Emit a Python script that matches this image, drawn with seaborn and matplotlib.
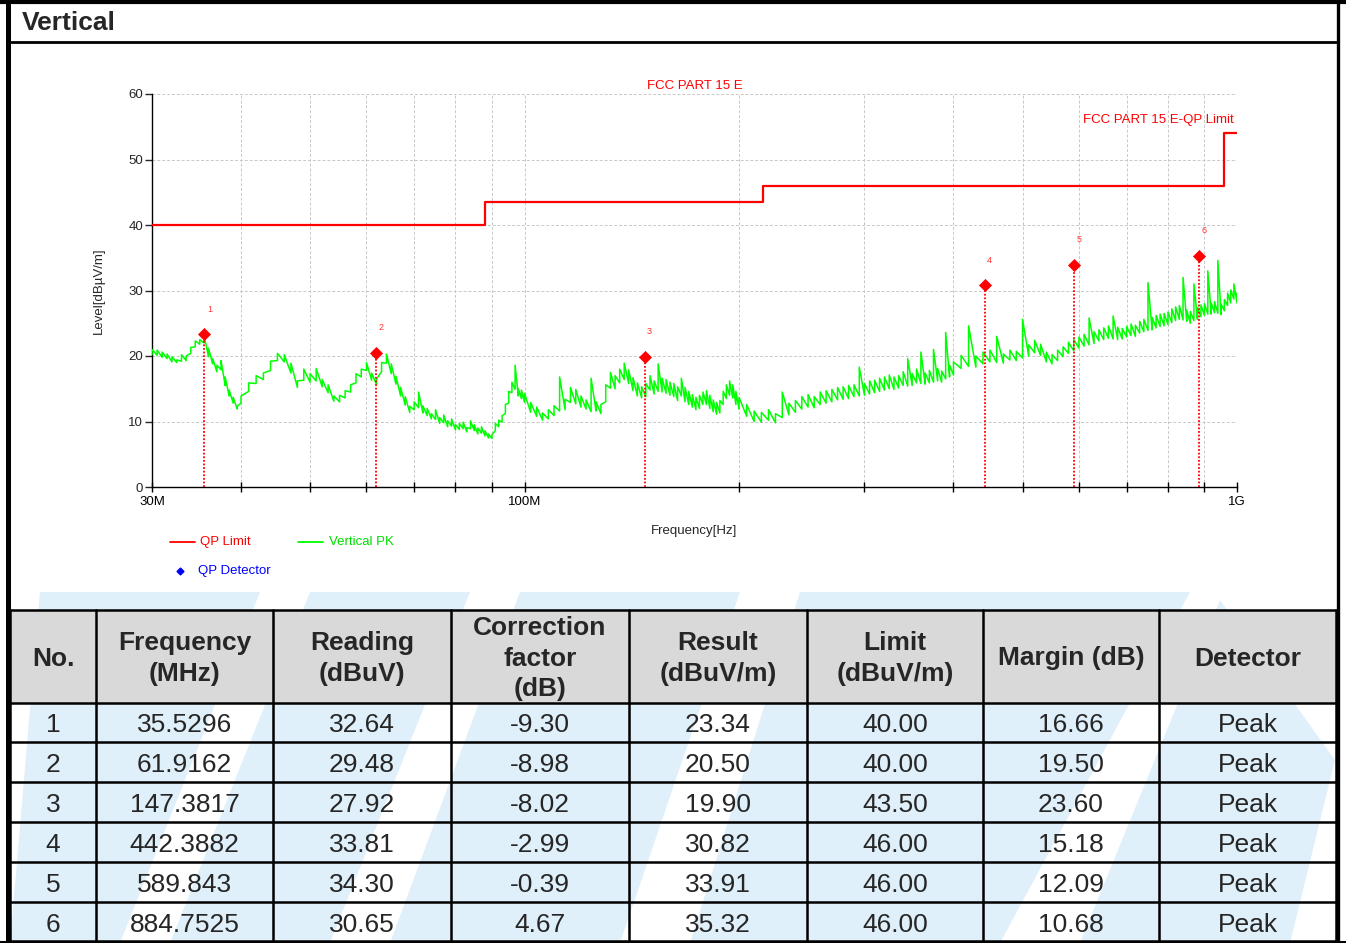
import matplotlib
matplotlib.use('Agg')
import matplotlib.pyplot as plt
from matplotlib.patches import Polygon, Rectangle
from matplotlib.lines import Line2D
from matplotlib.ticker import NullFormatter
import pandas as pd
import seaborn as sns

sns.set_style('white')
plt.rcParams['font.family'] = ['Liberation Sans', 'DejaVu Sans']

# FCC Part 15 QP limit (steps)
limit_freq = [30, 88, 216, 960, 1000]
limit_level = [40, 43.5, 46, 54, 54]

# vertical peak sweep (MHz, dBuV/m): top and bottom of the noise band
pk_freq = [30, 30.5, 31, 31.5, 32, 32.5, 33, 33.5, 34, 34.5, 35, 35.5, 36, 36.5, 37, 37.5, 38, 38.5, 39, 39.5, 40,
           41, 42, 43, 44, 45, 46, 47, 48, 49, 50, 51, 52, 53, 54, 55, 56, 57, 58, 59, 60,
           61, 62, 63, 64, 65, 66, 67, 68, 69, 70, 71, 72, 73, 74, 75, 76, 77, 78, 79, 80,
           81, 82, 83, 84, 85, 86, 87, 88, 89, 90, 91, 92, 93, 94, 95, 96, 97, 98, 99, 100,
           102, 104, 106, 108, 110, 112, 114, 116, 118, 120, 122, 124, 126, 128, 130, 132, 134, 136, 138, 140,
           142, 144, 146, 148, 150, 152, 154, 156, 158, 160, 162, 164, 166, 168, 170, 172, 174, 176, 178, 180,
           182, 184, 186, 188, 190, 192, 194, 196, 198, 200,
           205, 210, 215, 220, 225, 230, 235, 240, 245, 250, 255, 260, 265, 270, 275, 280, 285, 290, 295, 300,
           305, 310, 315, 320, 325, 330, 335, 340, 345, 350, 355, 360, 365, 370, 375, 380, 385, 390, 395, 400,
           410, 420, 430, 440, 450, 460, 470, 480, 490, 500, 510, 520, 530, 540, 550, 560, 570, 580, 590, 600,
           610, 620, 630, 640, 650, 660, 670, 680, 690, 700, 710, 720, 730, 740, 750, 760, 770, 780, 790, 800,
           810, 820, 830, 840, 850, 860, 870, 880, 890, 900, 910, 920, 930, 940, 950, 960, 970, 980, 990, 1000]
pk_high = [21.0, 20.9, 20.6, 20.3, 19.9, 19.4, 20.2, 20.0, 21.3, 22.3, 22.5, 23.2, 21.2, 19.6, 18.6, 19.3, 16.8, 14.8, 13.7, 12.3, 13.9,
           15.9, 17.0, 17.4, 19.2, 20.4, 20.2, 18.9, 16.2, 18.0, 17.3, 18.1, 16.4, 15.6, 13.9, 14.0, 14.7, 15.6, 17.3, 18.0, 19.0,
           17.4, 16.5, 19.0, 20.3, 18.8, 16.9, 15.2, 13.8, 12.3, 13.0, 14.5, 12.4, 12.0, 11.2, 11.8, 10.6, 11.0, 10.1, 10.4, 9.5,
           9.7, 9.9, 9.1, 10.1, 9.5, 9.0, 9.2, 8.6, 8.1, 8.0, 9.7, 10.2, 10.9, 12.6, 14.6, 16.0, 18.6, 15.0, 14.8, 14.3,
           12.9, 12.2, 11.3, 11.8, 12.4, 16.8, 13.4, 15.2, 14.9, 13.9, 13.3, 16.6, 13.0, 12.6, 15.6, 17.5, 17.0, 18.0, 18.9, 17.9,
           16.7, 15.9, 15.3, 15.8, 17.0, 16.2, 18.8, 16.6, 16.4, 16.0, 15.8, 15.3, 16.6, 15.2, 14.6, 14.1, 13.7, 14.0, 14.5, 14.7,
           14.0, 13.3, 12.9, 13.2, 14.6, 15.6, 16.2, 15.6, 14.6, 13.7,
           12.6, 11.6, 11.4, 11.8, 11.2, 14.5, 12.8, 13.2, 13.8, 14.1, 13.8, 14.5, 14.7, 14.9, 15.2, 15.3, 15.5, 15.6, 18.3, 15.8,
           16.2, 16.3, 16.6, 16.8, 17.1, 16.8, 17.0, 17.6, 19.6, 17.3, 18.0, 20.6, 17.4, 17.8, 21.0, 18.1, 17.7, 23.6, 18.6, 19.1,
           20.1, 24.6, 20.0, 20.6, 20.9, 23.0, 20.3, 20.9, 20.7, 25.6, 21.7, 22.4, 21.8, 20.6, 20.2, 20.9, 21.4, 22.1, 22.5, 22.9,
           23.3, 25.8, 23.7, 24.0, 24.3, 24.6, 26.1, 24.4, 24.2, 24.5, 24.9, 24.7, 25.3, 25.6, 31.2, 25.9, 26.2, 26.4, 26.5, 26.7,
           27.2, 27.5, 27.7, 32.0, 27.0, 26.8, 31.0, 27.4, 27.8, 28.0, 33.0, 28.1, 28.3, 34.6, 27.9, 28.6, 29.6, 30.1, 31.0, 29.6]
pk_low = [20.2, 20.1, 19.8, 19.6, 19.1, 19.0, 19.2, 19.3, 20.4, 21.4, 21.8, 22.0, 19.9, 18.8, 17.6, 17.9, 15.5, 13.9, 12.8, 11.9, 12.8,
          14.6, 15.8, 16.4, 17.8, 19.3, 19.1, 17.4, 15.2, 16.3, 16.0, 16.2, 15.3, 14.4, 13.1, 13.0, 13.6, 14.5, 15.9, 16.8, 17.8,
          16.3, 15.6, 17.6, 18.9, 17.3, 15.7, 13.9, 12.5, 11.4, 11.8, 12.1, 11.3, 10.9, 10.4, 10.3, 9.7, 9.8, 9.2, 9.3, 8.7,
          8.8, 8.9, 8.4, 8.9, 8.6, 8.1, 8.2, 7.8, 7.5, 7.4, 8.6, 9.2, 9.9, 11.2, 12.8, 14.4, 14.9, 13.9, 13.5, 12.9,
          11.4, 10.8, 10.2, 10.4, 10.9, 11.6, 11.8, 12.9, 12.7, 12.2, 11.9, 11.5, 11.6, 11.2, 13.0, 15.1, 15.0, 15.9, 16.4, 15.8,
          14.7, 13.9, 13.6, 13.8, 14.8, 14.2, 14.6, 14.5, 14.3, 14.0, 13.8, 13.2, 13.9, 13.0, 12.6, 12.2, 11.8, 12.0, 12.6, 12.6,
          12.0, 11.5, 11.1, 11.3, 12.6, 13.5, 14.0, 13.6, 12.6, 11.9,
          10.8, 10.0, 9.9, 10.2, 9.8, 10.6, 11.0, 11.4, 11.9, 12.2, 12.1, 12.6, 12.8, 13.0, 13.3, 13.4, 13.5, 13.8, 13.9, 14.0,
          14.2, 14.4, 14.6, 14.8, 15.0, 14.9, 15.1, 15.5, 15.4, 15.5, 15.9, 15.8, 15.7, 15.9, 16.0, 16.2, 16.0, 16.5, 16.8, 17.1,
          18.1, 18.4, 18.3, 18.8, 19.1, 19.0, 18.9, 19.4, 19.3, 19.7, 20.0, 20.5, 20.1, 19.1, 18.8, 19.3, 19.9, 20.4, 20.8, 21.2,
          21.5, 21.7, 21.9, 22.3, 22.5, 22.7, 22.6, 22.5, 22.6, 22.9, 23.1, 23.0, 23.5, 23.7, 23.9, 24.0, 24.3, 24.5, 24.6, 24.8,
          25.1, 25.4, 25.6, 25.5, 25.3, 25.0, 25.4, 25.6, 26.0, 26.2, 26.4, 26.4, 26.6, 26.5, 26.3, 26.9, 27.7, 28.1, 28.7, 28.1]

# measured points / table
marker_no = [1, 2, 3, 4, 5, 6]
freq_mhz = [35.5296, 61.9162, 147.3817, 442.3882, 589.843, 884.7525]
reading = [32.64, 29.48, 27.92, 33.81, 34.30, 30.65]
correction = [-9.30, -8.98, -8.02, -2.99, -0.39, 4.67]
result = [23.34, 20.50, 19.90, 30.82, 33.91, 35.32]
limit = [40.00, 40.00, 43.50, 46.00, 46.00, 46.00]
margin = [16.66, 19.50, 23.60, 15.18, 12.09, 10.68]
detector = ['Peak'] * 6

headers = ['No.', 'Frequency\n(MHz)', 'Reading\n(dBuV)', 'Correction\nfactor\n(dB)',
           'Result\n(dBuV/m)', 'Limit\n(dBuV/m)', 'Margin (dB)', 'Detector']

# the analyser draws min/max per column: low -> high at each frequency
sweep = pd.DataFrame({
    'freq': [f for f in pk_freq for _ in range(2)],
    'level': [v for lo, hi in zip(pk_low, pk_high) for v in (lo, hi)],
})

W, H = 1346, 943
fig = plt.figure(figsize=(W / 100, H / 100), dpi=100)

# background layer in pixel coords (frame, watermark, legend, table)
bg = fig.add_axes([0, 0, 1, 1])
bg.set_xlim(0, W)
bg.set_ylim(H, 0)
bg.axis('off')

# light blue watermark bands
wm = '#e0f0fb'
bands = [[(10, 943), (120, 943), (260, 592), (40, 592)],
         [(170, 943), (330, 943), (470, 592), (310, 592)],
         [(390, 943), (620, 943), (740, 592), (520, 592)],
         [(690, 943), (1000, 943), (1190, 592), (800, 592)],
         [(1080, 943), (1290, 943), (1335, 760), (1220, 600)]]
for b in bands:
    bg.add_patch(Polygon(b, closed=True, color=wm, lw=0, zorder=0))

# header
bg.text(22, 23, 'Vertical', fontsize=19, fontweight='bold', va='center', ha='left')

# chart axes
ax = fig.add_axes([152 / W, 1 - 487 / H, 1085 / W, 393 / H])
ax.patch.set_alpha(0)
ax.set_xscale('log')

sns.lineplot(data=sweep, x='freq', y='level', ax=ax, color='#00ff00', linewidth=1.1,
             estimator=None, sort=False, zorder=3)
sns.lineplot(x=limit_freq, y=limit_level, ax=ax, color='#ff0000', linewidth=1.6,
             drawstyle='steps-post', estimator=None, sort=False, zorder=4)
ax.vlines(freq_mhz, 0, result, colors='#ff0000', linestyles=(0, (1, 1)), linewidth=1.3, zorder=5)
sns.scatterplot(x=freq_mhz, y=result, ax=ax, marker='D', color='#ff0000',
                edgecolor='#ff0000', s=38, zorder=6)
for n, f, r in zip(marker_no, freq_mhz, result):
    ax.annotate(str(n), (f, r), xytext=(3.6, 18), textcoords='offset points',
                color='#ff3333', fontsize=6.5, ha='center', va='center')

ax.set_xlim(30, 1000)
ax.set_ylim(0, 60)
ax.set_xticks([30, 100, 1000])
ax.set_xticklabels(['30M', '100M', '1G'])
ax.set_xticks([40, 50, 60, 70, 80, 90, 200, 300, 400, 500, 600, 700, 800, 900], minor=True)
ax.xaxis.set_minor_formatter(NullFormatter())
ax.set_yticks(range(0, 61, 10))
ax.grid(which='both', color='#c8c8c8', linestyle=(0, (3, 2)), linewidth=0.7, zorder=0)
ax.tick_params(axis='x', which='both', direction='inout', length=7, width=1, pad=3,
               labelsize=9.5, colors='black', bottom=True)
ax.tick_params(axis='y', direction='out', length=5, width=1, pad=1.5, labelsize=9.5, left=True)
for s in ['top', 'right']:
    ax.spines[s].set_visible(False)
for s in ['left', 'bottom']:
    ax.spines[s].set_color('black')
    ax.spines[s].set_linewidth(1)

ax.set_xlabel('Frequency[Hz]', fontsize=9.5, va='center')
ax.xaxis.set_label_coords((694 - 152) / 1085, (487 - 531) / 393)
ax.set_ylabel('Level[dBµV/m]', fontsize=9.5, va='center')
ax.yaxis.set_label_coords((99 - 152) / 1085, (487 - 291) / 393)

ax.text(0.5, 1 + 8 / 393, 'FCC PART 15 E', transform=ax.transAxes, color='#ff0000',
        fontsize=9.5, ha='center', va='center')
ax.text(1 - 3 / 1085, (487 - 120) / 393, 'FCC PART 15 E-QP Limit', transform=ax.transAxes,
        color='#ff0000', fontsize=9.5, ha='right', va='center')

# legend
bg.add_line(Line2D([170, 195], [542, 542], color='#ff0000', lw=1.3))
bg.text(200, 542, 'QP Limit', color='#ff0000', fontsize=9.5, va='center')
bg.add_line(Line2D([298, 323], [542, 542], color='#00ff00', lw=1.3))
bg.text(329, 542, 'Vertical PK', color='#00dd00', fontsize=9.5, va='center')
bg.plot([180], [571], marker='D', color='#0000ff', markersize=3.5, lw=0)
bg.text(198, 571, 'QP Detector', color='#0000ff', fontsize=9.5, va='center')

# table
col_x = [10, 96, 273, 451, 629, 807, 983, 1159, 1336]
row_y = [610, 703, 742, 782, 822, 862, 902, 941]
bg.add_patch(Rectangle((col_x[0], row_y[0]), col_x[-1] - col_x[0], row_y[1] - row_y[0],
                       color='#d9d9d9', lw=0, zorder=1))
for x in col_x:
    bg.add_line(Line2D([x, x], [row_y[0], row_y[-1]], color='black', lw=1.8, zorder=3))
for y in row_y:
    bg.add_line(Line2D([col_x[0], col_x[-1]], [y, y], color='black', lw=1.8, zorder=3))

centers = [(col_x[i] + col_x[i + 1]) / 2 for i in range(len(col_x) - 1)]
for cx, h in zip(centers, headers):
    bg.text(cx, 658.5, h, fontsize=19, fontweight='bold', ha='center', va='center',
            linespacing=1.35, zorder=4)

rows = []
for i in range(len(marker_no)):
    rows.append([str(marker_no[i]), str(freq_mhz[i]), '%.2f' % reading[i], '%.2f' % correction[i],
                 '%.2f' % result[i], '%.2f' % limit[i], '%.2f' % margin[i], detector[i]])
for i, row in enumerate(rows):
    cy = (row_y[i + 1] + row_y[i + 2]) / 2 + 3
    for cx, val in zip(centers, row):
        bg.text(cx, cy, val, fontsize=19, ha='center', va='center', zorder=4)

# outer frame
bg.add_line(Line2D([7.5, 7.5], [0, H], color='black', lw=3.6, zorder=5))
bg.add_line(Line2D([1338, 1338], [0, H], color='black', lw=2.4, zorder=5))
bg.add_line(Line2D([0, W], [2, 2], color='black', lw=3, zorder=5))
bg.add_line(Line2D([0, W], [941.5, 941.5], color='black', lw=2.2, zorder=5))
bg.add_line(Line2D([8, 1338], [42, 42], color='black', lw=2, zorder=5))

fig.savefig('out.png', dpi=100)
